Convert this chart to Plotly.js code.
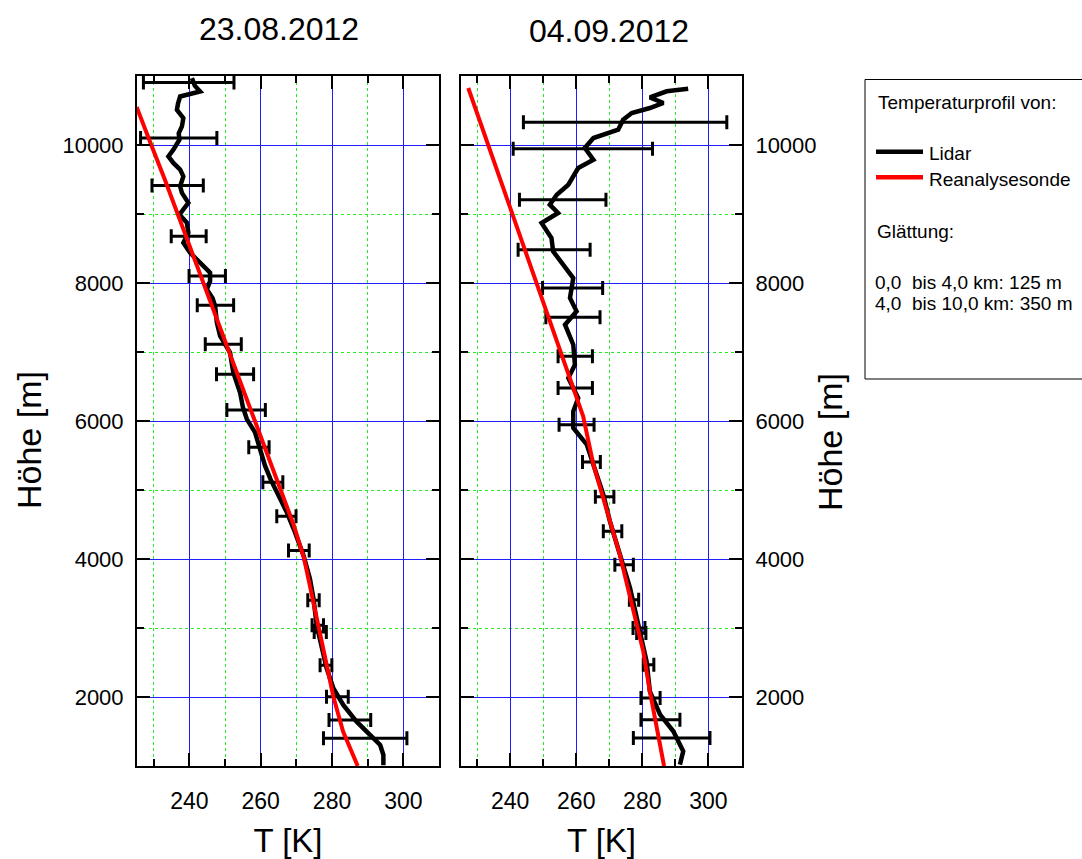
<!DOCTYPE html>
<html>
<head>
<meta charset="utf-8">
<script src="https://cdn.plot.ly/plotly-3.0.1.min.js"></script>
<style>html,body{margin:0;padding:0;background:#fff;}#chart{width:1082px;height:859px;}</style>
</head>
<body>
<div id="chart"></div>
<script>
// ---------- data ----------
const panelTitles = ['23.08.2012', '04.09.2012'];

// 23.08.2012 – Lidar profile (height [m], temperature [K])
const lidarLeftH = [10969, 10860, 10775, 10727, 10703, 10600, 10510, 10390, 10269, 10170, 10077, 9932, 9835, 9740, 9643, 9546, 9401, 9306, 9161, 8992, 8872, 8727, 8583, 8438, 8294, 8149, 8028, 7908, 7780, 7666, 7426, 7232, 6992, 6703, 6414, 6200, 6028, 5835, 5594, 5353, 5150, 4968, 4679, 4389, 4051, 3714, 3425, 3039, 2702, 2413, 2124, 1882, 1642, 1449, 1304, 1160, 1010];
const lidarLeftT = [240.7, 241.5, 243.0, 239.7, 237.4, 236.8, 236.5, 238.3, 237.9, 237.0, 237.2, 235.5, 234.1, 235.5, 237.4, 238.3, 237.4, 237.9, 239.7, 237.2, 239.3, 239.7, 238.3, 240.2, 243.0, 245.8, 245.8, 244.9, 246.5, 247.2, 247.7, 248.6, 251.4, 252.3, 254.2, 255.0, 256.1, 258.4, 259.8, 261.2, 262.8, 264.5, 267.3, 269.6, 272.0, 273.8, 274.8, 275.7, 277.1, 278.5, 280.4, 283.2, 286.9, 290.7, 293.5, 294.4, 294.4];

// 23.08.2012 – Reanalysis sonde
const redLeftH = [1000, 1500, 2000, 2500, 3000, 3500, 4000, 4500, 5000, 5500, 6000, 6500, 7000, 7500, 8000, 8500, 9000, 9500, 10000, 10550];
const redLeftT = [287.2, 283.1, 280.4, 278.3, 276.3, 274.2, 272.2, 269.2, 265.6, 262.0, 258.5, 254.9, 251.3, 247.7, 244.1, 240.6, 236.9, 233.1, 229.3, 225.2];

// 23.08.2012 – Lidar error bars
const errLeftH = [10906, 10101, 9412, 8679, 8100, 7676, 7112, 6678, 6158, 5619, 5113, 4621, 4124, 3401, 3039, 2943, 2461, 2004, 1665, 1401];
const errLeftT = [239.8, 237.0, 236.7, 239.8, 245.0, 247.3, 249.5, 252.8, 255.9, 259.5, 263.4, 267.2, 270.7, 274.8, 276.0, 276.7, 278.3, 281.5, 285.0, 289.3];
const errLeftD = [12.7, 10.7, 7.2, 4.9, 5.1, 5.1, 5.05, 5.2, 5.4, 2.85, 2.8, 2.7, 2.9, 1.6, 1.6, 1.7, 1.65, 3.05, 5.85, 11.7];

// 04.09.2012 – Lidar profile
const lidarRightH = [10816, 10778, 10691, 10609, 10536, 10464, 10367, 10222, 10101, 9957, 9787, 9667, 9425, 9280, 9135, 9014, 8870, 8652, 8459, 8265, 8072, 7783, 7590, 7396, 7106, 6816, 6623, 6333, 6140, 5899, 5657, 5367, 4932, 4546, 4062, 3580, 3048, 2517, 2082, 1744, 1503, 1213, 1020];
const lidarRightT = [293.9, 287.4, 282.3, 286.4, 282.3, 276.8, 274.2, 272.7, 265.2, 262.6, 265.2, 260.6, 257.6, 254.1, 252.0, 254.5, 249.5, 252.5, 253.0, 256.1, 259.1, 258.1, 260.1, 256.6, 259.1, 259.6, 257.6, 260.6, 259.1, 259.1, 263.2, 265.2, 268.2, 270.2, 273.2, 276.3, 278.8, 281.3, 282.3, 285.4, 289.4, 292.4, 291.4];

// 04.09.2012 – Reanalysis sonde
const redRightH = [1000, 1500, 2082, 2662, 3500, 4062, 4700, 5367, 6068, 7000, 8000, 9039, 10000, 10826];
const redRightT = [286.6, 284.6, 282.3, 280.3, 276.1, 273.2, 269.3, 265.2, 262.1, 255.3, 248.0, 240.4, 233.3, 227.3];

// 04.09.2012 – Lidar error bars
const errRightH = [10329, 9947, 9207, 8483, 7928, 7503, 6938, 6478, 5946, 5406, 4903, 4401, 3918, 3410, 3000, 2928, 2469, 1986, 1671, 1406];
const errRightT = [274.8, 262.0, 255.9, 253.3, 258.9, 259.0, 259.7, 259.7, 260.1, 264.6, 268.6, 271.0, 274.5, 277.5, 279.0, 279.7, 281.9, 282.5, 285.5, 288.9];
const errRightD = [30.8, 21.1, 13.1, 10.9, 9.1, 8.2, 5.2, 5.2, 5.3, 2.7, 2.8, 2.8, 2.8, 1.4, 1.8, 1.4, 1.6, 2.9, 5.9, 11.6];

const seriesNames = ['Lidar', 'Reanalysesonde'];
const legendTitle = 'Temperaturprofil von:';
const smoothTitle = 'Glättung:';
const smoothLines = ['0,0  bis 4,0 km: 125 m', '4,0  bis 10,0 km: 350 m'];
const xTitle = 'T [K]';
const yTitle = 'Höhe [m]';

// ---------- style ----------
const W = 1082, H = 859;
const FONT = 'Arial, "Liberation Sans", sans-serif';
const px = v => v / W;
const py = v => 1 - v / H;

function lineTrace(x, y, color, width, xa, ya, name) {
  return {type: 'scatter', mode: 'lines', x: x, y: y, xaxis: xa, yaxis: ya, name: name,
          line: {color: color, width: width}, hoverinfo: 'x+y', showlegend: false};
}
function errTrace(x, y, d, xa, ya) {
  return {type: 'scatter', mode: 'markers', x: x, y: y, xaxis: xa, yaxis: ya,
          marker: {size: 2, color: 'black', opacity: 0}, showlegend: false,
          error_x: {type: 'data', array: d, symmetric: true, visible: true, color: 'black', thickness: 3, width: 7}};
}

const data = [
  lineTrace(lidarLeftT, lidarLeftH, 'black', 4.5, 'x', 'y', seriesNames[0]),
  errTrace(errLeftT, errLeftH, errLeftD, 'x', 'y'),
  lineTrace(redLeftT, redLeftH, 'rgb(255,0,0)', 4, 'x', 'y', seriesNames[1]),
  lineTrace(lidarRightT, lidarRightH, 'black', 4.5, 'x2', 'y2', seriesNames[0]),
  errTrace(errRightT, errRightH, errRightD, 'x2', 'y2'),
  lineTrace(redRightT, redRightH, 'rgb(255,0,0)', 4, 'x2', 'y2', seriesNames[1])
];

const baseAxis = {
  showline: true, linecolor: 'black', linewidth: 2, mirror: 'ticks',
  ticks: 'inside', ticklen: 13, tickwidth: 2, tickcolor: 'black',
  showgrid: true, gridcolor: 'rgb(30,30,255)', gridwidth: 1, zeroline: false,
  tickmode: 'linear', fixedrange: true
};
const minorGrid = {ticks: 'inside', ticklen: 7, tickwidth: 2, tickcolor: 'black',
                   showgrid: true, gridcolor: 'rgb(40,235,40)', griddash: 'dot', gridwidth: 1};
function xAxis(domain, range, anchor) {
  return Object.assign({}, baseAxis, {
    domain: domain, range: range, anchor: anchor, tick0: 0, dtick: 20,
    ticklabelstandoff: 13,
    tickfont: {size: 23, family: FONT, color: 'black'},
    minor: Object.assign({dtick: 10}, minorGrid),
    title: {text: xTitle, font: {size: 33, family: FONT, color: 'black'}, standoff: 26}
  });
}
function yAxis(domain, anchor, side) {
  return Object.assign({}, baseAxis, {
    domain: domain, range: [1000, 11000], anchor: anchor, side: side, tick0: 0, dtick: 2000,
    tickformat: 'd', ticklabelstandoff: 7,
    tickfont: {size: 22, family: FONT, color: 'black'},
    minor: Object.assign({dtick: 1000}, minorGrid)
  });
}

const yDom = [py(766), py(76)];
const legFont = {size: 19, family: FONT, color: 'black'};

const layout = {
  width: W, height: H, margin: {l: 0, r: 0, t: 0, b: 0}, showlegend: false,
  paper_bgcolor: 'white', plot_bgcolor: 'white',
  font: {family: FONT, color: 'black'},
  xaxis: xAxis([px(137), px(439)], [225.3, 310], 'y'),
  yaxis: yAxis(yDom, 'x', 'left'),
  xaxis2: xAxis([px(461), px(742)], [225.1, 310.2], 'y2'),
  yaxis2: yAxis(yDom, 'x2', 'right'),
  shapes: [
    {type: 'rect', xref: 'paper', yref: 'paper', x0: px(865), x1: px(1095), y0: py(379), y1: py(79.5),
     line: {color: 'black', width: 1}, fillcolor: 'rgba(0,0,0,0)'},
    {type: 'line', xref: 'paper', yref: 'paper', x0: px(876), x1: px(923), y0: py(151.7), y1: py(151.7),
     line: {color: 'black', width: 4.5}},
    {type: 'line', xref: 'paper', yref: 'paper', x0: px(876), x1: px(923), y0: py(177.3), y1: py(177.3),
     line: {color: 'rgb(255,0,0)', width: 4.5}}
  ],
  annotations: [
    {text: panelTitles[0], xref: 'paper', yref: 'paper', x: px(279), y: py(29), xanchor: 'center', yanchor: 'middle',
     showarrow: false, font: {size: 32, family: FONT, color: 'black'}},
    {text: panelTitles[1], xref: 'paper', yref: 'paper', x: px(609), y: py(31), xanchor: 'center', yanchor: 'middle',
     showarrow: false, font: {size: 32, family: FONT, color: 'black'}},
    {text: yTitle, xref: 'paper', yref: 'paper', x: px(29), y: py(440), xanchor: 'center', yanchor: 'middle',
     textangle: -90, showarrow: false, font: {size: 34, family: FONT, color: 'black'}},
    {text: yTitle, xref: 'paper', yref: 'paper', x: px(830), y: py(442), xanchor: 'center', yanchor: 'middle',
     textangle: -90, showarrow: false, font: {size: 34, family: FONT, color: 'black'}},
    {text: legendTitle, xref: 'paper', yref: 'paper', x: px(876), y: py(103), xanchor: 'left', yanchor: 'middle',
     showarrow: false, font: legFont},
    {text: seriesNames[0], xref: 'paper', yref: 'paper', x: px(927), y: py(154), xanchor: 'left', yanchor: 'middle',
     showarrow: false, font: legFont},
    {text: seriesNames[1], xref: 'paper', yref: 'paper', x: px(927), y: py(179.5), xanchor: 'left', yanchor: 'middle',
     showarrow: false, font: legFont},
    {text: smoothTitle, xref: 'paper', yref: 'paper', x: px(875), y: py(231.5), xanchor: 'left', yanchor: 'middle',
     showarrow: false, font: legFont},
    {text: smoothLines[0], xref: 'paper', yref: 'paper', x: px(873), y: py(282), xanchor: 'left', yanchor: 'middle',
     showarrow: false, font: legFont},
    {text: smoothLines[1], xref: 'paper', yref: 'paper', x: px(873), y: py(303.5), xanchor: 'left', yanchor: 'middle',
     showarrow: false, font: legFont}
  ]
};

Plotly.newPlot('chart', data, layout, {staticPlot: true, displayModeBar: false});
</script>
</body>
</html>
